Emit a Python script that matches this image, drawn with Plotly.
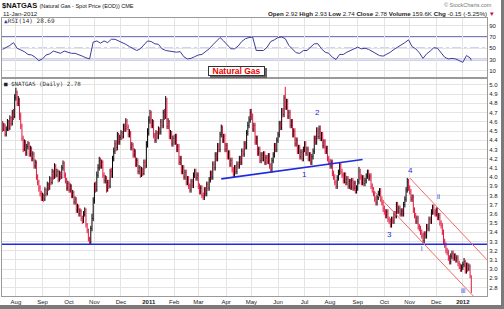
import pandas as pd
import numpy as np
import plotly.graph_objects as go

# ---------------- data (daily bars) ----------------
FIRST_OPEN = 4.58
CLOSE = [
    # Jul 2010 (from Jul 16)
    4.52, 4.56, 4.46, 4.52, 4.60, 4.53, 4.64, 4.58, 4.70, 4.66, 4.86,
    # Aug 2010
    4.92, 4.80, 4.84, 4.66, 4.55, 4.42, 4.30, 4.38, 4.26, 4.33, 4.36, 4.25, 4.31, 4.20, 4.25, 4.12, 4.16, 4.00, 3.94, 3.88, 3.82, 3.78,
    # Sep 2010
    3.80, 3.76, 3.86, 3.82, 3.92, 3.88, 3.98, 3.94, 4.06, 4.00, 4.12, 4.02, 4.06, 3.97, 4.04, 4.00, 4.10, 4.15, 4.02, 3.96, 3.88, 3.93,
    # Oct 2010
    3.86, 3.90, 3.80, 3.83, 3.73, 3.76, 3.64, 3.68, 3.60, 3.63, 3.55, 3.52, 3.60, 3.64, 3.48, 3.42, 3.33, 3.29, 3.44, 3.55, 3.74,
    # Nov 2010
    3.90, 3.86, 4.02, 4.10, 4.18, 4.12, 4.16, 4.02, 3.96, 3.99, 3.86, 3.94, 3.90, 4.06, 4.02, 4.20, 4.28, 4.36, 4.32, 4.46, 4.38, 4.43,
    # Dec 2010
    4.48, 4.44, 4.55, 4.52, 4.61, 4.54, 4.46, 4.48, 4.32, 4.35, 4.24, 4.28, 4.14, 4.18, 4.06, 4.10, 4.02, 4.08, 4.04, 4.16, 4.12, 4.35, 4.48,
    # Jan 2011
    4.62, 4.70, 4.56, 4.60, 4.45, 4.40, 4.48, 4.44, 4.52, 4.49, 4.60, 4.56, 4.70, 4.66, 4.85, 4.55, 4.60, 4.44, 4.48, 4.36, 4.42,
    # Feb 2011
    4.38, 4.44, 4.30, 4.33, 4.16, 4.20, 4.06, 4.10, 4.00, 4.05, 3.94, 3.98, 3.90, 3.86, 3.95, 3.91, 4.02, 4.06, 3.99, 4.02,
    # Mar 2011
    3.90, 3.84, 3.88, 3.80, 3.78, 3.86, 3.82, 3.92, 3.88, 3.97, 4.04, 4.00, 4.14, 4.10, 4.24, 4.20, 4.34, 4.30, 4.46, 4.54, 4.40, 4.44, 4.30,
    # Apr 2011
    4.34, 4.22, 4.26, 4.14, 4.18, 4.08, 4.03, 4.10, 4.06, 4.14, 4.12, 4.20, 4.16, 4.28, 4.25, 4.36, 4.33, 4.48, 4.56, 4.62, 4.70,
    # May 2011
    4.66, 4.52, 4.56, 4.38, 4.42, 4.26, 4.30, 4.18, 4.24, 4.20, 4.25, 4.16, 4.21, 4.17, 4.23, 4.12, 4.08, 4.18, 4.24, 4.34, 4.30, 4.40,
    # Jun 2011
    4.46, 4.58, 4.54, 4.72, 4.68, 4.86, 4.76, 4.82, 4.66, 4.70, 4.56, 4.60, 4.46, 4.50, 4.36, 4.40, 4.28, 4.32, 4.22, 4.27, 4.20, 4.30,
    # Jul 2011
    4.36, 4.26, 4.30, 4.20, 4.24, 4.16, 4.22, 4.28, 4.42, 4.38, 4.50, 4.44, 4.52, 4.42, 4.46, 4.34, 4.38, 4.28, 4.31, 4.20, 4.16,
    # Aug 2011
    4.12, 4.16, 4.04, 4.00, 3.94, 3.90, 3.99, 4.05, 4.13, 4.06, 4.02, 3.96, 4.02, 3.94, 3.98, 3.90, 3.95, 3.89, 3.96, 3.88, 3.93, 3.85, 3.88,
    # Sep 2011
    3.95, 4.06, 4.00, 3.94, 3.99, 3.93, 3.96, 4.01, 4.05, 3.99, 4.01, 3.90, 3.86, 3.82, 3.76, 3.72, 3.78, 3.82, 3.85, 3.76, 3.72, 3.66,
    # Oct 2011
    3.62, 3.58, 3.62, 3.54, 3.52, 3.48, 3.54, 3.52, 3.60, 3.58, 3.70, 3.63, 3.66, 3.60, 3.63, 3.60, 3.70, 3.76, 3.86, 3.95, 3.88,
    # Nov 2011
    3.84, 3.76, 3.78, 3.64, 3.58, 3.52, 3.55, 3.46, 3.44, 3.40, 3.36, 3.31, 3.38, 3.36, 3.46, 3.44, 3.54, 3.52, 3.62, 3.67, 3.62, 3.60,
    # Dec 2011
    3.64, 3.56, 3.58, 3.50, 3.47, 3.40, 3.30, 3.26, 3.20, 3.18, 3.12, 3.08, 3.14, 3.17, 3.12, 3.14, 3.10, 3.12, 3.06, 3.03, 3.00, 3.02,
    # Jan 2012
    3.05, 3.08, 2.98, 3.04, 3.00, 3.03, 2.93, 2.78,
]
HIGH = [
    4.61, 4.59, 4.58, 4.55, 4.63, 4.62, 4.67, 4.66, 4.73, 4.74, 4.90,
    4.97, 4.94, 4.88, 4.86, 4.70, 4.58, 4.45, 4.41, 4.40, 4.36, 4.39, 4.38, 4.34, 4.33, 4.28, 4.27, 4.19, 4.18, 4.03, 3.97, 3.91, 3.85,
    3.83, 3.82, 3.89, 3.88, 3.95, 3.94, 4.01, 4.00, 4.09, 4.08, 4.15, 4.14, 4.09, 4.08, 4.07, 4.06, 4.13, 4.18, 4.17, 4.05, 3.99, 3.96,
    3.95, 3.93, 3.92, 3.86, 3.85, 3.79, 3.78, 3.71, 3.70, 3.66, 3.65, 3.58, 3.63, 3.67, 3.66, 3.50, 3.44, 3.35, 3.47, 3.60, 3.78,
    3.94, 3.95, 4.06, 4.14, 4.22, 4.21, 4.19, 4.18, 4.05, 4.02, 4.01, 3.97, 3.97, 4.09, 4.10, 4.23, 4.32, 4.40, 4.40, 4.49, 4.48, 4.46,
    4.51, 4.50, 4.58, 4.58, 4.64, 4.63, 4.57, 4.52, 4.50, 4.38, 4.37, 4.31, 4.30, 4.21, 4.20, 4.13, 4.12, 4.11, 4.10, 4.19, 4.19, 4.39, 4.53,
    4.66, 4.73, 4.72, 4.63, 4.62, 4.48, 4.51, 4.50, 4.55, 4.54, 4.63, 4.63, 4.73, 4.74, 4.88, 4.86, 4.64, 4.62, 4.51, 4.50, 4.45,
    4.46, 4.47, 4.47, 4.36, 4.36, 4.23, 4.23, 4.13, 4.13, 4.08, 4.08, 4.01, 4.01, 3.93, 3.98, 3.98, 4.05, 4.09, 4.09, 4.05,
    4.05, 3.93, 3.91, 3.91, 3.83, 3.89, 3.89, 3.95, 3.95, 4.00, 4.07, 4.07, 4.17, 4.17, 4.27, 4.27, 4.37, 4.37, 4.49, 4.57, 4.56, 4.47, 4.47,
    4.37, 4.37, 4.29, 4.29, 4.21, 4.21, 4.11, 4.13, 4.13, 4.17, 4.17, 4.23, 4.23, 4.31, 4.31, 4.39, 4.39, 4.51, 4.60, 4.66, 4.74,
    4.74, 4.69, 4.59, 4.59, 4.45, 4.45, 4.33, 4.33, 4.27, 4.27, 4.28, 4.28, 4.24, 4.24, 4.26, 4.26, 4.15, 4.21, 4.27, 4.37, 4.37, 4.43,
    4.49, 4.61, 4.61, 4.75, 4.75, 4.89, 4.98, 4.85, 4.85, 4.73, 4.73, 4.63, 4.63, 4.53, 4.53, 4.43, 4.43, 4.35, 4.35, 4.30, 4.30, 4.33,
    4.39, 4.39, 4.33, 4.33, 4.27, 4.27, 4.25, 4.31, 4.45, 4.45, 4.54, 4.54, 4.56, 4.56, 4.49, 4.49, 4.41, 4.41, 4.34, 4.34, 4.23,
    4.20, 4.19, 4.19, 4.07, 4.03, 3.97, 4.02, 4.08, 4.16, 4.16, 4.09, 4.05, 4.05, 4.05, 4.01, 4.01, 3.98, 3.98, 3.99, 3.99, 3.96, 3.96, 3.91,
    3.98, 4.11, 4.09, 4.03, 4.02, 4.02, 3.99, 4.04, 4.08, 4.08, 4.04, 4.04, 3.93, 3.89, 3.85, 3.79, 3.81, 3.85, 3.88, 3.88, 3.79, 3.75,
    3.69, 3.65, 3.65, 3.65, 3.57, 3.55, 3.57, 3.57, 3.63, 3.63, 3.73, 3.73, 3.69, 3.69, 3.66, 3.66, 3.73, 3.79, 3.89, 3.99, 3.98,
    3.91, 3.87, 3.81, 3.81, 3.67, 3.61, 3.58, 3.58, 3.49, 3.47, 3.43, 3.39, 3.41, 3.41, 3.49, 3.49, 3.57, 3.57, 3.65, 3.70, 3.70, 3.65,
    3.67, 3.67, 3.61, 3.61, 3.53, 3.50, 3.43, 3.33, 3.29, 3.23, 3.21, 3.15, 3.17, 3.20, 3.20, 3.17, 3.17, 3.15, 3.15, 3.09, 3.06, 3.05,
    3.08, 3.12, 3.10, 3.07, 3.07, 3.06, 3.05, 2.93,
]
LOW = [
    4.49, 4.50, 4.44, 4.44, 4.50, 4.50, 4.51, 4.55, 4.56, 4.62, 4.64,
    4.83, 4.77, 4.77, 4.62, 4.52, 4.39, 4.27, 4.28, 4.23, 4.23, 4.30, 4.22, 4.22, 4.17, 4.17, 4.09, 4.09, 3.97, 3.91, 3.84, 3.79, 3.74,
    3.74, 3.73, 3.74, 3.79, 3.80, 3.85, 3.86, 3.91, 3.92, 3.97, 3.98, 3.99, 4.00, 3.94, 3.95, 3.97, 3.98, 4.07, 3.99, 3.93, 3.85, 3.85,
    3.83, 3.83, 3.77, 3.77, 3.70, 3.70, 3.61, 3.61, 3.57, 3.57, 3.52, 3.49, 3.50, 3.57, 3.45, 3.39, 3.30, 3.27, 3.27, 3.41, 3.52,
    3.71, 3.83, 3.84, 3.99, 4.07, 4.09, 4.09, 3.99, 3.93, 3.93, 3.83, 3.84, 3.87, 3.88, 3.99, 3.99, 4.17, 4.25, 4.28, 4.29, 4.35, 4.35,
    4.40, 4.41, 4.42, 4.49, 4.49, 4.51, 4.43, 4.43, 4.29, 4.29, 4.21, 4.21, 4.11, 4.11, 4.03, 4.03, 3.99, 4.00, 4.01, 4.02, 4.09, 4.10, 4.32,
    4.45, 4.58, 4.53, 4.53, 4.42, 4.37, 4.37, 4.41, 4.41, 4.46, 4.46, 4.53, 4.53, 4.62, 4.63, 4.52, 4.52, 4.41, 4.41, 4.33, 4.33,
    4.35, 4.35, 4.27, 4.27, 4.13, 4.13, 4.03, 4.03, 3.97, 3.97, 3.91, 3.91, 3.87, 3.83, 3.83, 3.88, 3.88, 3.99, 3.96, 3.96,
    3.87, 3.81, 3.81, 3.77, 3.75, 3.75, 3.79, 3.79, 3.85, 3.85, 3.94, 3.97, 3.97, 4.07, 4.07, 4.17, 4.17, 4.27, 4.27, 4.43, 4.37, 4.37, 4.27,
    4.27, 4.19, 4.19, 4.11, 4.11, 4.05, 4.00, 4.00, 4.03, 4.03, 4.09, 4.09, 4.13, 4.13, 4.22, 4.22, 4.30, 4.30, 4.45, 4.53, 4.59,
    4.62, 4.49, 4.49, 4.35, 4.35, 4.23, 4.23, 4.15, 4.15, 4.17, 4.17, 4.13, 4.13, 4.14, 4.14, 4.09, 4.05, 4.05, 4.15, 4.21, 4.27, 4.27,
    4.37, 4.43, 4.51, 4.51, 4.65, 4.65, 4.73, 4.73, 4.63, 4.63, 4.53, 4.53, 4.43, 4.43, 4.33, 4.33, 4.25, 4.25, 4.19, 4.19, 4.17, 4.17,
    4.27, 4.23, 4.23, 4.17, 4.17, 4.13, 4.13, 4.19, 4.25, 4.35, 4.35, 4.41, 4.41, 4.39, 4.39, 4.31, 4.31, 4.25, 4.25, 4.17, 4.13,
    4.09, 4.09, 4.01, 3.97, 3.91, 3.87, 3.87, 3.96, 4.02, 4.03, 3.99, 3.93, 3.93, 3.91, 3.91, 3.87, 3.87, 3.86, 3.86, 3.85, 3.85, 3.82, 3.82,
    3.85, 3.92, 3.97, 3.91, 3.91, 3.90, 3.90, 3.93, 3.98, 3.96, 3.96, 3.87, 3.83, 3.79, 3.73, 3.69, 3.69, 3.75, 3.79, 3.73, 3.69, 3.62,
    3.59, 3.55, 3.55, 3.51, 3.49, 3.45, 3.45, 3.49, 3.49, 3.55, 3.55, 3.60, 3.60, 3.57, 3.57, 3.57, 3.57, 3.67, 3.73, 3.83, 3.85,
    3.81, 3.73, 3.73, 3.61, 3.55, 3.49, 3.49, 3.43, 3.41, 3.37, 3.33, 3.28, 3.28, 3.33, 3.33, 3.41, 3.41, 3.49, 3.49, 3.59, 3.59, 3.57,
    3.57, 3.53, 3.53, 3.47, 3.44, 3.37, 3.27, 3.23, 3.17, 3.15, 3.09, 3.05, 3.05, 3.11, 3.09, 3.09, 3.07, 3.07, 3.03, 3.00, 2.97, 2.97,
    2.99, 3.02, 2.95, 2.95, 2.97, 2.98, 2.90, 2.74,
]
START_DATE = "2010-07-16"
END_DATE = "2012-01-11"

# RSI(14), one value every 3rd trading day, plus the last day
RSI_STEP = 3
RSI_VALUES = [
    48, 51, 55, 60, 50, 47, 44, 39, 38, 34, 28, 31, 38, 40, 45, 43, 41, 45, 43, 41,
    41, 39, 36, 33, 31, 61, 63, 59, 63, 60, 66, 66, 63, 61, 57, 53, 49, 46, 49, 57,
    63, 62, 58, 57, 49, 46, 45, 43, 43, 44, 35, 31, 32, 35, 38, 39, 44, 49, 56, 63,
    69, 63, 55, 49, 49, 54, 62, 67, 69, 70, 46, 46, 46, 52, 62, 65, 69, 70, 67, 55,
    48, 42, 41, 46, 46, 52, 58, 58, 49, 43, 41, 34, 30, 39, 39, 43, 46, 50, 52, 49,
    50, 48, 44, 40, 37, 36, 39, 43, 48, 52, 55, 60, 65, 53, 49, 42, 32, 40, 45, 51,
    50, 41, 34, 31, 32, 31, 28, 25, 37, 33,
]
RSI_LAST = 28.69

MONTH_LABELS = ["Aug", "Sep", "Oct", "Nov", "Dec", "<b>2011</b>", "Feb", "Mar", "Apr", "May", "Jun",
                "Jul", "Aug", "Sep", "Oct", "Nov", "Dec", "<b>2012</b>"]
PRICE_TICKS = [2.8, 2.9, 3.0, 3.1, 3.2, 3.3, 3.4, 3.5, 3.6, 3.7, 3.8, 3.9, 4.0, 4.1, 4.2, 4.3, 4.4, 4.5, 4.6, 4.7, 4.8, 4.9, 5.0]
RSI_TICKS = [10, 30, 50, 70, 90]

SUPPORT_LEVEL = 3.27
TREND_DATES = ["2011-03-28", "2011-09-07"]
TREND_PRICES = [3.98, 4.19]
CH_UP_DATES = ["2011-11-01", "2012-01-30"]
CH_UP_PRICES = [3.99, 3.10]
CH_LO_DATES = ["2011-09-16", "2012-01-30"]
CH_LO_PRICES = [3.88, 2.55]
WAVE_LABELS = ["1", "2", "3", "4", "i", "ii", "iii"]
WAVE_DATES = ["2011-07-01", "2011-07-18", "2011-10-07", "2011-11-02", "2011-11-15", "2011-12-05", "2012-01-02"]
WAVE_PRICES = [4.03, 4.70, 3.37, 4.07, 3.22, 3.79, 2.77]

# ---------------- build ----------------
dates = pd.bdate_range(START_DATE, END_DATE)
n = min(len(dates), len(CLOSE), len(HIGH), len(LOW))
dates = dates[:n]
close = np.array(CLOSE[:n])
high = np.array(HIGH[:n])
low = np.array(LOW[:n])
opens = np.concatenate([[FIRST_OPEN], close[:-1]])

rsi_dates = list(dates[::RSI_STEP][:len(RSI_VALUES)])
rsi_vals = list(RSI_VALUES[:len(rsi_dates)])
rsi_dates.append(dates[-1])
rsi_vals.append(RSI_LAST)

W, H = 504, 309
def px(x):
    return x / W
def py(y):
    return 1 - y / H

X0, X1 = 2, 487
MAIN_TOP, MAIN_BOT = 79, 296
RSI_TOP, RSI_BOT = 18, 77

FONT = "Liberation Sans, Arial, sans-serif"
BLUE = "#1f2be0"
RSI_BLUE = "#4b4bb4"
GRID = "#e4e4e4"
RED_BAR = "#e3173f"

fig = go.Figure()
fig.add_trace(go.Ohlc(
    x=dates, open=opens, high=high, low=low, close=close,
    increasing=dict(line=dict(color="#000000", width=1)),
    decreasing=dict(line=dict(color=RED_BAR, width=1)),
    tickwidth=0.3, showlegend=False, hoverinfo="skip",
    xaxis="x", yaxis="y",
))
fig.add_trace(go.Scatter(
    x=rsi_dates, y=rsi_vals, mode="lines", line=dict(color="#3c3ca0", width=1),
    showlegend=False, hoverinfo="skip", xaxis="x2", yaxis="y2",
))

# month tick positions: first trading day of each month (from Aug 2010)
ser = pd.Series(dates, index=dates)
firsts = ser.groupby([dates.year, dates.month]).first().tolist()[1:]
firsts = firsts[:len(MONTH_LABELS)]

xrange = ["2010-07-15 12:00", "2012-01-30"]
rb = [dict(bounds=["sat", "mon"])]
common_x = dict(
    type="date", range=xrange, rangebreaks=rb,
    domain=[px(X0), px(X1)],
    tickmode="array", tickvals=firsts, ticktext=MONTH_LABELS[:len(firsts)],
    showgrid=True, gridcolor=GRID, gridwidth=1,
    showline=True, mirror=True, linecolor="#9a9a9a", linewidth=1,
    ticks="", zeroline=False, rangeslider=dict(visible=False),
    tickfont=dict(family=FONT, size=6, color="#222"),
)
fig.update_layout(
    width=W, height=H, margin=dict(l=0, r=0, t=0, b=0),
    paper_bgcolor="white", plot_bgcolor="white",
    font=dict(family=FONT, size=6, color="#222"),
    xaxis=dict(common_x, anchor="y", showticklabels=True),
    xaxis2=dict(common_x, anchor="y2", matches="x", showticklabels=False),
    yaxis=dict(
        domain=[py(MAIN_BOT), py(MAIN_TOP)], range=[2.707, 5.065], side="right",
        tickmode="array", tickvals=PRICE_TICKS, ticktext=[f"{v:.1f}" for v in PRICE_TICKS],
        showgrid=True, gridcolor=GRID, zeroline=False, ticks="",
        showline=True, mirror=True, linecolor="#9a9a9a", linewidth=1,
        tickfont=dict(family=FONT, size=6, color="#222"), anchor="x",
    ),
    yaxis2=dict(
        domain=[py(RSI_BOT), py(RSI_TOP)], range=[-1.1, 103.8], side="right",
        tickmode="array", tickvals=RSI_TICKS, ticktext=[str(v) for v in RSI_TICKS],
        showgrid=True, gridcolor=GRID, zeroline=False, ticks="",
        showline=True, mirror=True, linecolor="#9a9a9a", linewidth=1,
        tickfont=dict(family=FONT, size=6, color="#222"), anchor="x2",
    ),
)

shapes = []
# RSI reference levels
for lvl, dash, wdt in [(70, "solid", 1.3), (30, "solid", 1.3), (50, "dashdot", 1)]:
    shapes.append(dict(type="line", xref="x2 domain", yref="y2", x0=0, x1=1, y0=lvl, y1=lvl,
                       line=dict(color=RSI_BLUE, width=wdt, dash=dash), layer="below"))
# support line
shapes.append(dict(type="line", xref="x domain", yref="y", x0=0, x1=1, y0=SUPPORT_LEVEL, y1=SUPPORT_LEVEL,
                   line=dict(color=BLUE, width=1.6)))
# trend line
shapes.append(dict(type="line", xref="x", yref="y", x0=TREND_DATES[0], x1=TREND_DATES[1],
                   y0=TREND_PRICES[0], y1=TREND_PRICES[1], line=dict(color=BLUE, width=1.6)))
# red channel
for d, p in [(CH_UP_DATES, CH_UP_PRICES), (CH_LO_DATES, CH_LO_PRICES)]:
    shapes.append(dict(type="line", xref="x", yref="y", x0=d[0], x1=d[1], y0=p[0], y1=p[1],
                       line=dict(color="#f06a6a", width=1)))
# frame shadow (right and bottom)
shapes.append(dict(type="rect", xref="paper", yref="paper", x0=px(0), x1=px(504), y0=py(309), y1=py(305),
                   fillcolor="#7a7a7a", line=dict(width=0)))
shapes.append(dict(type="rect", xref="paper", yref="paper", x0=px(501), x1=px(504), y0=py(309), y1=py(0),
                   fillcolor="#7a7a7a", line=dict(width=0)))
# shadow of the "Natural Gas" box
shapes.append(dict(type="rect", xref="paper", yref="paper", x0=px(210), x1=px(267), y0=py(78), y1=py(68),
                   fillcolor="#666", line=dict(width=0)))
fig.update_layout(shapes=shapes)

anns = []
def note(text, x, y, size=6, color="#222", xanchor="left", family=FONT, **kw):
    anns.append(dict(text=text, x=px(x), y=py(y), xref="paper", yref="paper", showarrow=False,
                     xanchor=xanchor, yanchor="middle", font=dict(family=family, size=size, color=color), **kw))

note("<b>$NATGAS</b> <span style='font-size:5.5px'>(Natural Gas - Spot Price (EOD)) CME</span>", 0, 5, size=7.5, color="#111")
note("11-Jan-2012", 1, 13, size=6.2, color="#222")
note("© StockCharts.com", 494, 5, size=5.5, color="#777", xanchor="right")
note("<b>Open</b> 2.92 <b>High</b> 2.93 <b>Low</b> 2.74 <b>Close</b> 2.78 <b>Volume</b> 159.6K "
     "<b>Chg</b> -0.15 (-5.25%) <span style='color:#c8102e'>▼</span>", 497, 13, size=6.2, color="#222", xanchor="right")
note("<span style='color:#2f3fb0'>▲</span>RSI(14) 28.69", 2, 20, size=6, color="#333", family="DejaVu Sans Mono, monospace")
note("<span style='color:#222'>■</span> $NATGAS (Daily) 2.78", 2, 84, size=5.8, color="#333", family="DejaVu Sans Mono, monospace")
anns.append(dict(text="<b>Natural Gas</b>", x=px(236.5), y=py(71.5), xref="paper", yref="paper", showarrow=False,
                 xanchor="center", yanchor="middle", font=dict(family=FONT, size=8.5, color="#ee0000"),
                 bgcolor="white", bordercolor="#333", borderwidth=1, borderpad=0, width=55, height=8))
for t, d, p in zip(WAVE_LABELS, WAVE_DATES, WAVE_PRICES):
    anns.append(dict(text=t, x=d, y=p, xref="x", yref="y", showarrow=False, xanchor="center", yanchor="middle",
                     font=dict(family=FONT, size=8 if len(t) == 1 and t != "i" else 6.5, color=BLUE)))
fig.update_layout(annotations=anns)

fig.write_html("out.html")
